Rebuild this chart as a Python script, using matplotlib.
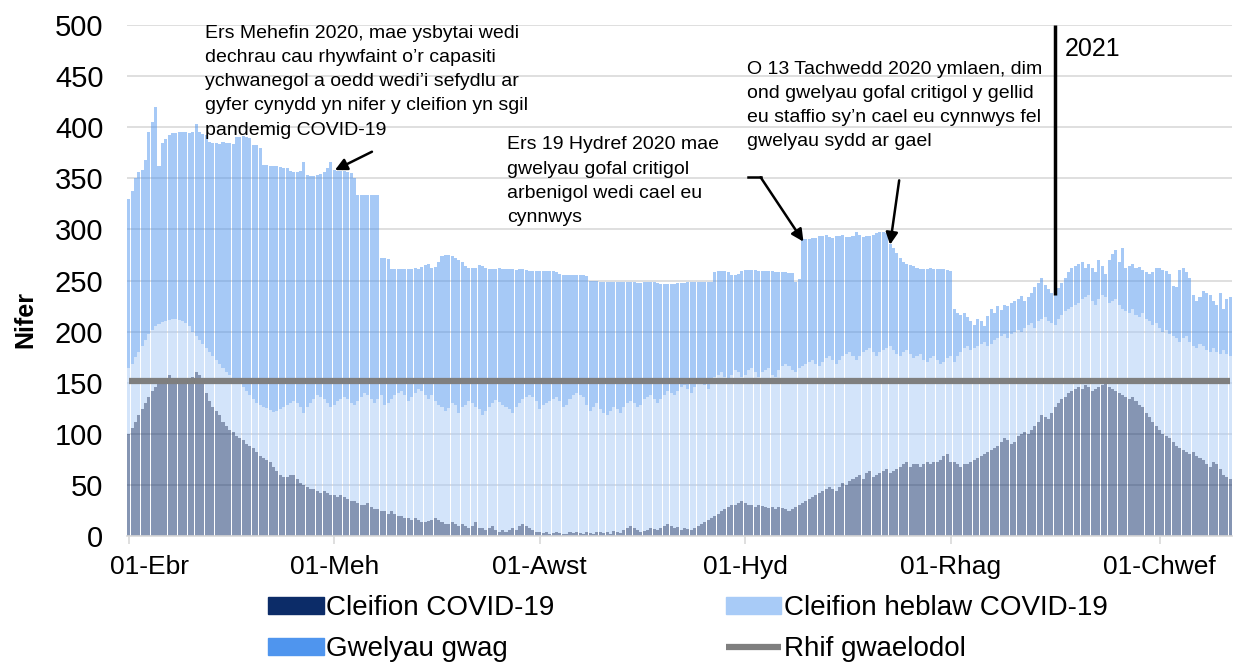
import numpy as np
import matplotlib
matplotlib.use("Agg")
import matplotlib.pyplot as plt
from matplotlib.patches import Patch
from matplotlib.transforms import ScaledTranslation

plt.rcParams["font.family"] = ["Liberation Sans", "DejaVu Sans"]

start_date = np.datetime64("2020-04-01")

# total beds available (top of every bar), one per day
total_beds = [
    330, 338, 350, 356, 358, 368, 395,
    405, 420, 362, 385, 388, 392, 394,
    394, 395, 395, 395, 394, 395, 403,
    395, 393, 392, 386, 385, 385, 384,
    386, 385, 385, 384, 390, 390, 391,
    390, 389, 383, 383, 380, 363, 363,
    362, 362, 362, 361, 360, 360, 357,
    356, 356, 357, 366, 353, 352, 352,
    353, 354, 356, 360, 366, 358, 357,
    357, 357, 356, 355, 350, 334, 334,
    334, 334, 334, 334, 334, 272, 272,
    271, 261, 261, 261, 261, 261, 261,
    261, 262, 261, 263, 265, 266, 262,
    263, 268, 274, 275, 275, 274, 272,
    270, 268, 264, 262, 262, 262, 265,
    264, 262, 261, 261, 261, 262, 261,
    261, 261, 261, 260, 261, 261, 260,
    259, 259, 259, 259, 259, 259, 259,
    259, 258, 256, 255, 255, 255, 255,
    255, 255, 255, 254, 250, 250, 250,
    249, 249, 249, 249, 249, 249, 249,
    249, 249, 249, 249, 248, 248, 249,
    249, 249, 249, 248, 247, 247, 247,
    247, 247, 248, 248, 248, 249, 249,
    249, 249, 249, 249, 249, 249, 258,
    259, 259, 259, 258, 255, 255, 256,
    259, 260, 260, 260, 260, 259, 259,
    259, 259, 259, 258, 258, 258, 258,
    257, 257, 249, 251, 291, 291, 291,
    292, 292, 294, 294, 295, 293, 292,
    294, 294, 295, 293, 293, 294, 297,
    295, 293, 294, 294, 295, 296, 297,
    297, 296, 286, 282, 277, 272, 268,
    266, 265, 264, 262, 261, 261, 261,
    262, 261, 261, 261, 261, 260, 259,
    222, 218, 216, 218, 214, 210, 206,
    212, 210, 205, 215, 222, 218, 225,
    221, 226, 225, 228, 230, 232, 235,
    230, 234, 238, 244, 248, 252, 246,
    242, 238, 236, 243, 248, 252, 258,
    262, 264, 266, 268, 262, 266, 262,
    258, 270, 264, 256, 270, 276, 280,
    268, 282, 262, 264, 266, 262, 263,
    260, 258, 256, 258, 262, 262, 260,
    259, 256, 245, 244, 260, 262, 258,
    252, 236, 230, 234, 240, 238, 236,
    230, 226, 238, 222, 232, 234,
]

# occupied beds (COVID + non-COVID patients)
occupied_beds = [
    164, 168, 175, 180, 186, 192, 198,
    202, 205, 207, 209, 210, 211, 212,
    212, 211, 210, 208, 205, 200, 196,
    192, 188, 184, 180, 176, 172, 168,
    164, 160, 158, 154, 152, 150, 146,
    142, 138, 134, 130, 128, 126, 125,
    123, 121, 122, 124, 126, 128, 130,
    132, 130, 126, 120, 126, 130, 134,
    138, 136, 134, 130, 126, 128, 132,
    134, 136, 134, 130, 128, 132, 136,
    140, 138, 134, 130, 134, 138, 128,
    130, 134, 138, 140, 142, 138, 132,
    136, 140, 144, 142, 138, 134, 138,
    132, 128, 126, 122, 125, 130, 128,
    120, 126, 128, 132, 130, 126, 124,
    118, 122, 126, 130, 133, 131, 128,
    126, 124, 120, 126, 130, 134, 136,
    138, 136, 132, 124, 128, 130, 132,
    134, 136, 132, 126, 128, 134, 138,
    140, 138, 136, 128, 122, 126, 130,
    124, 120, 118, 122, 126, 124, 120,
    126, 130, 132, 130, 126, 128, 134,
    136, 138, 134, 130, 134, 138, 142,
    140, 138, 142, 146, 148, 144, 140,
    146, 150, 152, 148, 144, 150, 156,
    158, 160, 156, 152, 158, 162, 160,
    156, 158, 162, 164, 160, 156, 160,
    162, 164, 158, 156, 162, 166, 168,
    166, 162, 160, 164, 166, 168, 170,
    172, 168, 166, 170, 174, 176, 172,
    168, 172, 176, 178, 180, 176, 172,
    176, 180, 182, 184, 180, 176, 180,
    182, 184, 186, 182, 178, 176, 180,
    182, 178, 174, 176, 178, 172, 170,
    174, 176, 172, 168, 170, 174, 176,
    170, 176, 180, 184, 186, 182, 184,
    186, 188, 190, 186, 188, 192, 194,
    196, 198, 194, 198, 200, 202, 200,
    204, 206, 208, 204, 210, 212, 214,
    210, 208, 206, 212, 216, 220, 222,
    224, 226, 228, 232, 234, 236, 230,
    226, 232, 236, 234, 228, 230, 232,
    226, 222, 220, 218, 222, 216, 214,
    218, 212, 210, 206, 208, 204, 200,
    202, 198, 196, 194, 190, 194, 196,
    190, 186, 184, 188, 186, 182, 180,
    184, 180, 178, 182, 178, 176,
]

covid_patients = [
    100, 106, 112, 118, 124, 130, 136,
    142, 146, 150, 152, 155, 158, 154,
    152, 150, 152, 151, 150, 156, 160,
    158, 150, 140, 132, 126, 122, 118,
    112, 108, 104, 102, 98, 96, 94,
    90, 88, 86, 82, 78, 76, 74,
    72, 68, 64, 60, 58, 58, 60,
    60, 56, 52, 50, 48, 46, 46,
    44, 42, 44, 42, 40, 40, 38,
    40, 38, 36, 34, 34, 32, 30,
    30, 32, 28, 26, 26, 24, 24,
    22, 24, 22, 20, 20, 18, 18,
    16, 18, 16, 14, 14, 15, 16,
    18, 16, 14, 12, 12, 14, 12,
    10, 12, 10, 8, 10, 14, 8,
    8, 6, 8, 10, 6, 4, 6,
    4, 6, 8, 6, 10, 12, 10,
    8, 6, 4, 4, 3, 4, 2,
    3, 4, 3, 2, 2, 4, 3,
    4, 3, 2, 4, 3, 2, 4,
    4, 3, 4, 2, 5, 4, 3,
    6, 8, 10, 8, 6, 4, 5,
    6, 8, 7, 6, 8, 10, 12,
    10, 8, 9, 6, 8, 7, 6,
    8, 10, 12, 14, 16, 18, 20,
    22, 24, 26, 28, 30, 30, 32,
    34, 32, 30, 30, 28, 30, 29,
    28, 27, 28, 26, 28, 27, 26,
    24, 26, 28, 30, 32, 34, 36,
    38, 40, 42, 44, 46, 48, 46,
    44, 48, 52, 50, 54, 56, 58,
    60, 56, 62, 64, 58, 60, 62,
    64, 66, 62, 64, 66, 68, 70,
    72, 68, 70, 70, 68, 70, 72,
    70, 72, 72, 74, 78, 80, 72,
    72, 70, 68, 70, 70, 72, 74,
    76, 78, 80, 82, 84, 86, 88,
    92, 96, 94, 90, 92, 98, 100,
    102, 100, 104, 108, 112, 118, 116,
    114, 120, 126, 130, 134, 136, 140,
    142, 144, 146, 144, 148, 146, 142,
    144, 146, 148, 150, 146, 144, 142,
    140, 138, 136, 134, 136, 132, 128,
    126, 120, 116, 112, 108, 104, 100,
    98, 96, 92, 88, 86, 84, 82,
    80, 82, 78, 76, 74, 70, 68,
    72, 70, 66, 60, 58, 56,
]

baseline_level = 152
year_marker_date = np.datetime64("2021-01-01")
year_marker_range = (236, 500)

tick_dates = ["2020-04-01", "2020-06-01", "2020-08-01", "2020-10-01", "2020-12-01", "2021-02-01"]
tick_labels = ["01-Ebr", "01-Meh", "01-Awst", "01-Hyd", "01-Rhag", "01-Chwef"]

n = len(total_beds)
dates = start_date + np.arange(n)
covid = np.array(covid_patients)
occupied = np.array(occupied_beds)
total = np.array(total_beds)

c_covid = "#0c2c68"
c_noncovid = "#a8cbf7"
c_empty = "#4f95ee"
c_base = "#7f7f7f"

fig = plt.figure(figsize=(12.34, 6.69), dpi=100)
ax = fig.add_axes([127 / 1234, 1 - 536 / 669, 1105 / 1234, 511 / 669])

# thin daily bars look washed out in the original, so draw them semi transparent
w = 0.9
a = 0.5
ax.bar(dates, covid, width=w, color=c_covid, alpha=a, linewidth=0)
ax.bar(dates, occupied - covid, bottom=covid, width=w, color=c_noncovid, alpha=a, linewidth=0)
ax.bar(dates, total - occupied, bottom=occupied, width=w, color=c_empty, alpha=a, linewidth=0)
ln, = ax.plot(dates, [baseline_level] * n, color=c_base, lw=4.5, solid_capstyle="butt")

ax.vlines(year_marker_date, year_marker_range[0], year_marker_range[1], color="black", lw=2.5)
ax.text(year_marker_date + np.timedelta64(3, "D"), 477, "2021", fontsize=18, va="center", ha="left")

ax.set_ylim(0, 500)
ax.set_yticks(range(0, 501, 50))
ax.set_xlim(start_date - np.timedelta64(12, "h"), dates[-1] + np.timedelta64(12, "h"))
ax.set_xticks([np.datetime64(t) for t in tick_dates])
ax.set_xticklabels(tick_labels)
ax.grid(axis="y", color="#d9d9d9", lw=1.2)
ax.set_axisbelow(True)
for s in ["top", "right", "left"]:
    ax.spines[s].set_visible(False)
ax.spines["bottom"].set_color("#d9d9d9")
ax.spines["bottom"].set_linewidth(1.2)
ax.tick_params(axis="y", length=0, pad=17, labelsize=21)
ax.tick_params(axis="x", length=6, color="#d9d9d9", width=1.2, pad=8, labelsize=19)

# first month label sits a bit right of its tick in the original
lab0 = ax.get_xticklabels()[0]
lab0.set_transform(lab0.get_transform() + ScaledTranslation(0.21, 0, fig.dpi_scale_trans))

fig.text(25 / 1234, 1 - 320 / 669, "Nifer", rotation=90, fontsize=18, fontweight="bold",
         ha="center", va="center")


def d(day):
    return start_date + np.timedelta64(int(round(day * 24)), "h")


txt1 = ("Ers Mehefin 2020, mae ysbytai wedi\ndechrau cau rhywfaint o\u2019r capasiti\n"
        "ychwanegol a oedd wedi\u2019i sefydlu ar\ngyfer cynydd yn nifer y cleifion yn sgil\n"
        "pandemig COVID-19")
txt2 = "Ers 19 Hydref 2020 mae\ngwelyau gofal critigol\narbenigol wedi cael eu\ncynnwys"
txt3 = ("O 13 Tachwedd 2020 ymlaen, dim\nond gwelyau gofal critigol y gellid\n"
        "eu staffio sy\u2019n cael eu cynnwys fel\ngwelyau sydd ar gael")
ax.text(d(22.8), 500, txt1, fontsize=14, va="top", ha="left", linespacing=1.55, clip_on=False)
ax.text(d(112.4), 391, txt2, fontsize=14, va="top", ha="left", linespacing=1.55)
ax.text(d(183.4), 465, txt3, fontsize=14, va="top", ha="left", linespacing=1.55)

arrow = dict(arrowstyle="-|>", color="black", lw=1.8, mutation_scale=18, shrinkA=0, shrinkB=0)
ax.annotate("", xy=(d(61.2), 358), xytext=(d(72.2), 376), arrowprops=arrow)
ax.plot([d(183.7), d(187.6)], [351, 351], color="black", lw=1.8)
ax.annotate("", xy=(d(200.3), 288), xytext=(d(187.6), 351), arrowprops=arrow)
ax.annotate("", xy=(d(226.0), 285), xytext=(d(228.7), 348), arrowprops=arrow)

handles = [Patch(color=c_covid), Patch(color=c_empty), Patch(color=c_noncovid), ln]
labels = ["Cleifion COVID-19", "Gwelyau gwag", "Cleifion heblaw COVID-19", "Rhif gwaelodol"]
fig.legend(handles, labels, loc="upper left", bbox_to_anchor=(268 / 1234, 1 - 595 / 669),
           ncol=2, frameon=False, fontsize=20, handlelength=2.0, handleheight=0.55,
           handletextpad=0.1, columnspacing=6.15, labelspacing=0.55, borderpad=0, borderaxespad=0)

fig.savefig("out.png", dpi=100)
